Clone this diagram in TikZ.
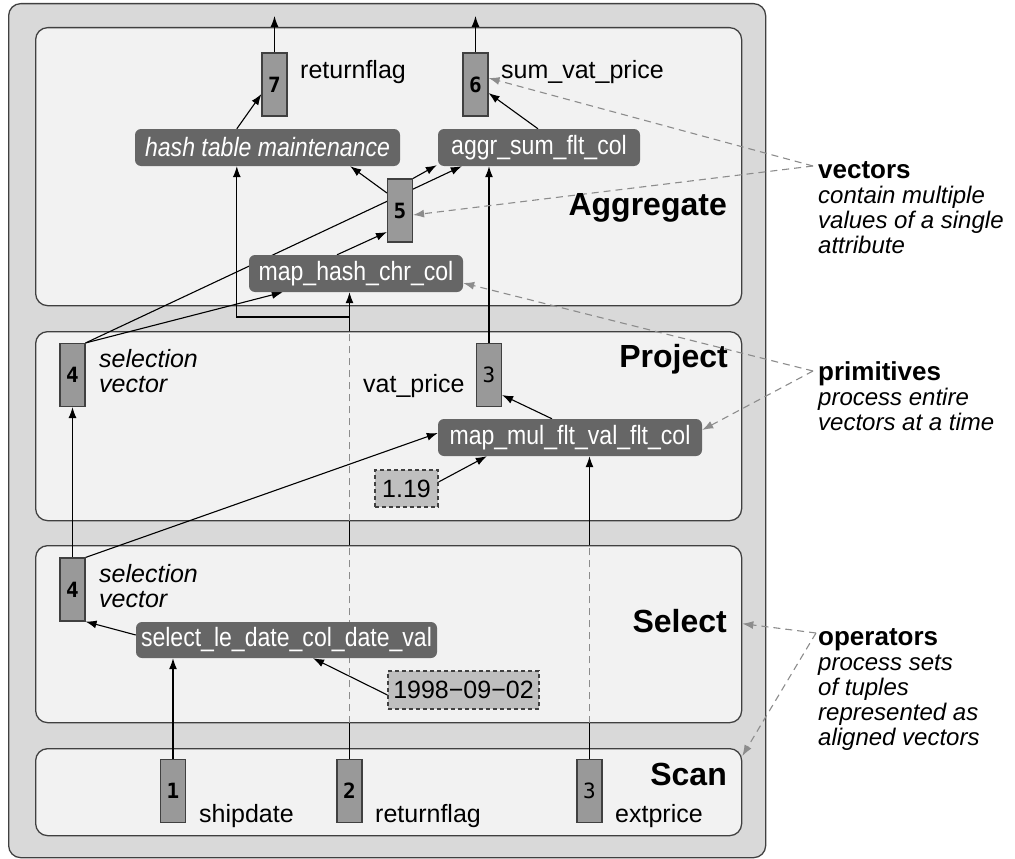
\documentclass[tikz,border=0pt]{standalone}
\usepackage{fontspec}
\setmainfont{Liberation Sans}
\newfontfamily\opfont[FakeStretch=0.87]{Liberation Sans}
\newfontfamily\numfont{DejaVu Sans Mono}
\usetikzlibrary{arrows.meta,calc}
\pgfdeclarelayer{frames}
\pgfdeclarelayer{wires}
\pgfsetlayers{frames,wires,main}

\definecolor{outerfill}{HTML}{D9D9D9}
\definecolor{panelfill}{HTML}{F2F2F2}
\definecolor{vecfill}{HTML}{999999}
\definecolor{opfill}{HTML}{666666}
\definecolor{constfill}{HTML}{BFBFBF}
\definecolor{framecol}{HTML}{404040}
\definecolor{notegray}{HTML}{8C8C8C}

\tikzset{
  outerbox/.style={draw=framecol, fill=outerfill, rounded corners=12pt, line width=1.3pt, inner sep=0pt},
  panel/.style={draw=framecol, fill=panelfill, rounded corners=12pt, line width=1.3pt, inner sep=0pt, anchor=north west},
  vec/.style={draw=framecol, fill=vecfill, minimum width=25pt, minimum height=63pt, inner sep=0pt, line width=1.1pt,
    font=\numfont\bfseries\fontsize{21}{21}\selectfont},
  prim/.style={fill=opfill, rounded corners=6pt, text=white, minimum height=37pt, inner sep=0pt,
    font=\opfont\fontsize{26.5}{26.5}\selectfont},
  constbox/.style={draw=framecol, dashed, dash pattern=on 4pt off 3pt, fill=constfill, minimum height=37pt,
    inner sep=0pt, line width=1.1pt, font=\fontsize{25}{25}\selectfont},
  lbl/.style={font=\fontsize{25}{25}\selectfont, anchor=base west, inner sep=0pt},
  multi/.style={font=\itshape\fontsize{25}{25}\selectfont, anchor=base west, inner sep=0pt, align=left},
  layer/.style={font=\bfseries\fontsize{32}{32}\selectfont, anchor=base east, inner sep=0pt},
  legend/.style={font=\itshape\fontsize{24}{25}\selectfont, anchor=base west, inner sep=0pt, align=left},
  wire/.style={line width=1.1pt, draw=black},
  flow/.style={wire, -{Latex[length=11pt,width=8pt]}},
  pass/.style={line width=1.1pt, draw=notegray, dash pattern=on 7pt off 5pt},
  note/.style={line width=1.1pt, draw=notegray, dash pattern=on 7pt off 5pt,
    -{Latex[length=11pt,width=8pt,fill=notegray]}},
}

\begin{document}
\begin{tikzpicture}[x=1pt,y=-1pt]
\useasboundingbox (0,0) rectangle (1015,859);

% frames: outer pipeline box and the four operator layers
\begin{pgfonlayer}{frames}
  \node[outerbox, minimum width=757pt, minimum height=854pt, anchor=north west] (outer) at (8,3) {};
  \node[panel, minimum width=706pt, minimum height=278pt] (agg)  at (35,27)  {};
  \node[panel, minimum width=706pt, minimum height=189pt] (proj) at (35,331) {};
  \node[panel, minimum width=706pt, minimum height=177pt] (sel)  at (35,545) {};
  \node[panel, minimum width=706pt, minimum height=87pt]  (scan) at (35,748) {};
\end{pgfonlayer}

% layer titles
\node[layer] (tagg)  at (727,215) {Aggregate};
\node[layer] (tproj) at (728,367) {Project};
\node[layer] (tsel)  at (727,632) {Select};
\node[layer] (tscan) at (727,785) {Scan};

% vectors
\node[vec] (v7)  at (274.5,84.5)  {\raisebox{-2pt}{7}};
\node[vec] (v6)  at (475.5,84.5)  {\raisebox{-5pt}{6}};
\node[vec] (v5)  at (400,210.5)   {\raisebox{-6pt}{5}};
\node[vec] (v4p) at (72.5,375)    {\raisebox{-2pt}{4}};
\node[vec] (v3p) at (489,375)     {\raisebox{-4pt}{\mdseries 3}};
\node[vec] (v4s) at (72.5,589.5)  {\raisebox{-2pt}{4}};
\node[vec] (v1)  at (173,791)     {\raisebox{-6pt}{1}};
\node[vec] (v2)  at (349.5,791)   {\raisebox{-4pt}{2}};
\node[vec] (v3s) at (589.5,791)   {\raisebox{-6pt}{\mdseries 3}};

% primitives
\node[prim, minimum width=265pt] (hash)    at (267.5,147.5) {\itshape hash table maintenance};
\node[prim, minimum width=202pt] (aggr)    at (539,147.5)   {aggr\_sum\_flt\_col};
\node[prim, minimum width=214pt] (maphash) at (356,273.5)   {map\_hash\_chr\_col};
\node[prim, minimum width=264pt] (mapmul)  at (570,437.5)   {map\_mul\_flt\_val\_flt\_col};
\node[prim, minimum width=301pt, minimum height=36pt] (selle) at (286.5,640) {select\_le\_date\_col\_date\_val};

% constants
\node[constbox, minimum width=63pt]  (c119)  at (406.5,488.5) {1.19};
\node[constbox, minimum width=151pt, minimum height=38pt] (cdate) at (463.5,690) {1998−09−02};

% vector labels (multi-line nodes sit on the baseline of their last line)
\node[lbl] (lrf7)  at (300,78)  {returnflag};
\node[lbl] (lsum)  at (501,78)  {sum\_vat\_price};
\node[lbl] (lvat)  at (363,392) {vat\_price};
\node[multi] (lselp) at (99,392) {selection\\vector};
\node[multi] (lsels) at (99,607) {selection\\vector};
\node[lbl] (lship) at (199,822) {shipdate};
\node[lbl] (lrf2)  at (375,822) {returnflag};
\node[lbl] (lext)  at (615,822) {extprice};

% legend
\node[legend] (lgvec) at (818,253)
  {{\upshape\bfseries\fontsize{26}{25}\selectfont vectors}\\contain multiple\\values of a single\\attribute};
\node[legend] (lgprim) at (818,430)
  {{\upshape\bfseries\fontsize{26}{25}\selectfont primitives}\\process entire\\vectors at a time};
\node[legend] (lgop) at (818,745)
  {{\upshape\bfseries\fontsize{26}{25}\selectfont operators}\\process sets\\of tuples\\represented as\\aligned vectors};

\coordinate (out7) at (274.5,16);
\coordinate (out6) at (475.5,16);
\coordinate (rfsplit) at (349.5,317);
\coordinate (htin) at ([xshift=102pt]hash.south west);
\coordinate (nvec)  at (813,166);
\coordinate (nprim) at (813,371);
\coordinate (nop)   at (816,633);

\begin{pgfonlayer}{wires}
  % aggregate layer
  \draw[flow] (v7.north) -- (out7);
  \draw[flow] (v6.north) -- (out6);
  \draw[flow] (htin |- hash.north) -- ([yshift=-9.5pt]v7.west);
  \draw[flow] ([xshift=-1pt]aggr.north) -- ([yshift=-8.5pt]v6.east);
  \draw[flow] ([yshift=17.5pt]v5.west) -- ([xshift=-50pt]hash.south east);
  \draw[flow] (v5.north east) -- ([xshift=-1pt,yshift=1pt]aggr.south west);
  \draw[flow] (v4p.north east) -- ([xshift=24pt]aggr.south west);
  \draw[flow] (v4p.north east) -- ([xshift=34pt]maphash.south west);
  \draw[flow] ([xshift=-19pt]maphash.north) -- ([yshift=-21.5pt]v5.west);
  \draw[flow] (v3p.north) -- (v3p |- aggr.south);
  % project layer
  \draw[flow] (v4s.north) -- (v4p.south);
  \draw[flow] (v4s.north east) -- ([yshift=4.5pt]mapmul.west);
  \draw[flow] ([yshift=6.5pt]c119.east) -- ([xshift=49pt]mapmul.south west);
  \draw[flow] ([xshift=-18pt]mapmul.north) -- ([yshift=-20pt]v3p.east);
  % select layer
  \draw[flow] (v1.north) -- (v1 |- selle.south);
  \draw[flow] ([yshift=-5pt]cdate.west) -- ([xshift=26.5pt]selle.south);
  \draw[flow] ([yshift=5pt]selle.west) -- (v4s.south east);
  % returnflag column, passing through select and project
  \draw[wire] (v2.north) -- (v2 |- sel.south);
  \draw[pass] (v2 |- sel.south) -- (v2 |- sel.north);
  \draw[wire] (v2 |- sel.north) -- (v2 |- proj.south);
  \draw[pass] (v2 |- proj.south) -- (v2 |- proj.north);
  \draw[flow] (v2 |- proj.north) -- (v2 |- maphash.south);
  \draw[flow] (rfsplit) -| (htin);
  % extprice column, passing through select
  \draw[wire] (v3s.north) -- (v3s |- sel.south);
  \draw[pass] (v3s |- sel.south) -- (v3s |- sel.north);
  \draw[flow] (v3s |- sel.north) -- (v3s |- mapmul.south);
  % legend pointers
  \draw[note] (nvec) -- ([yshift=6.5pt]v6.east);
  \draw[note] (nvec) -- ([yshift=-4.5pt]v5.east);
  \draw[note] (nprim) -- ([yshift=-9.5pt]maphash.east);
  \draw[note] (nprim) -- ([yshift=7.5pt]mapmul.east);
  \draw[note] (nop) -- ([yshift=10.5pt]sel.east);
  \draw[note] (nop) -- ([yshift=-8pt]scan.north east);
\end{pgfonlayer}
\end{tikzpicture}
\end{document}
